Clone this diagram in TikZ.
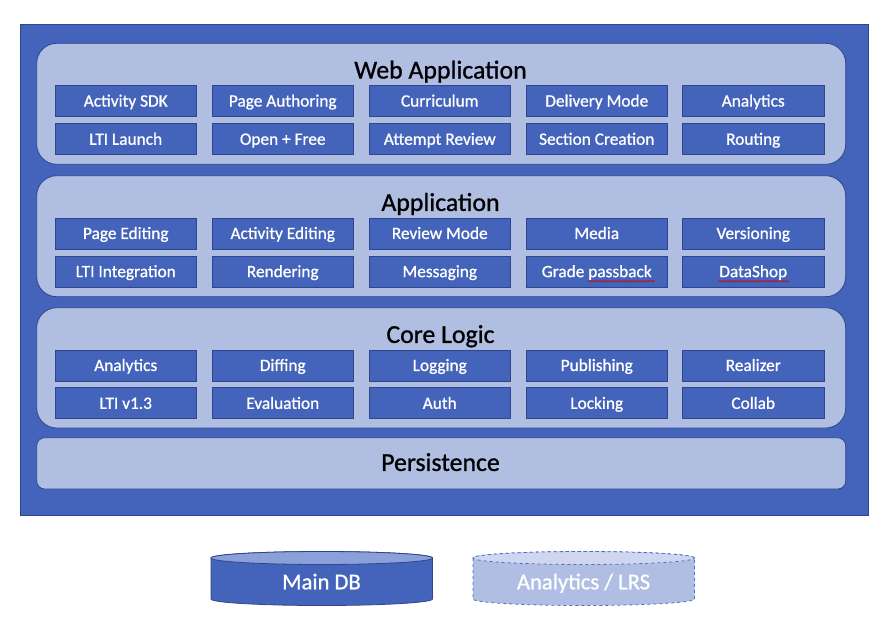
\documentclass[tikz,border=0pt]{standalone}
\usepackage{fontspec}
\setmainfont{Carlito}[RawFeature={embolden=0.9}]
\usetikzlibrary{decorations.pathmorphing}
\definecolor{oblue}{RGB}{68,99,186}
\definecolor{oedge}{RGB}{47,70,140}
\definecolor{plight}{RGB}{175,190,225}
\definecolor{dbtop}{RGB}{139,160,216}
\definecolor{lrsbody}{RGB}{175,190,226}
\definecolor{lrstop}{RGB}{206,215,239}
\definecolor{lrsedge}{RGB}{80,110,195}
\tikzset{
  every node/.style={inner sep=0pt, outer sep=0pt},
  frame/.style={draw=oedge, fill=oblue, line width=0.8pt},
  panel/.style={draw=oedge, fill=plight, line width=0.8pt, rounded corners=20pt, minimum width=809pt},
  ptitle/.style={font=\fontsize{25.8}{30}\selectfont, text=black, text height=16.6pt, text depth=0pt},
  cell/.style={draw=oedge, fill=oblue, line width=0.8pt, minimum width=141.5pt, minimum height=31pt,
    text=white, font=\fontsize{17.3}{20}\selectfont, text height=11.1pt, text depth=0pt},
  dbtext/.style={text=white, font=\fontsize{22.6}{26}\selectfont, text height=14.6pt, text depth=0pt},
  squiggle/.style={draw=red!85!black, line width=0.55pt, decorate, decoration={snake, amplitude=0.7pt, segment length=2.6pt}}
}
\begin{document}
\begin{tikzpicture}[x=1pt,y=-1pt]
\useasboundingbox (0,0) rectangle (888,624);
\node[frame, minimum width=848pt, minimum height=490.7pt] (outer) at (444,269.65) {};
% panels
\node[panel, minimum height=121pt] (webp) at (441.2,103.8) {};
\node[panel, minimum height=121pt] (appp) at (441.2,236.2) {};
\node[panel, minimum height=120.3pt] (corep) at (441.2,367.85) {};
\node[panel, minimum height=51.3pt, rounded corners=8pt] (persp) at (441.2,463.35) {};
% titles
\node[ptitle] (webt) at (440.5,70.2) {Web Application};
\node[ptitle] (appt) at (440.5,202.6) {Application};
\node[ptitle] (coret) at (440.5,334.6) {Core Logic};
\node[ptitle] (perst) at (440.5,462.6) {Persistence};
% Web Application cells
\node[cell] (w11) at (125.75,101) {Activity SDK};
\node[cell] (w12) at (282.75,101) {Page Authoring};
\node[cell] (w13) at (439.75,101) {Curriculum};
\node[cell] (w14) at (596.75,101) {Delivery Mode};
\node[cell] (w15) at (753.25,101) {Analytics};
\node[cell] (w21) at (125.75,139.2) {LTI Launch};
\node[cell] (w22) at (282.75,139.2) {Open + Free};
\node[cell] (w23) at (439.75,139.2) {Attempt Review};
\node[cell] (w24) at (596.75,139.2) {Section Creation};
\node[cell] (w25) at (753.25,139.2) {Routing};
% Application cells
\node[cell] (a11) at (125.75,233.4) {Page Editing};
\node[cell] (a12) at (282.75,233.4) {Activity Editing};
\node[cell] (a13) at (439.75,233.4) {Review Mode};
\node[cell] (a14) at (596.75,233.4) {Media};
\node[cell] (a15) at (753.25,233.4) {Versioning};
\node[cell] (a21) at (125.75,271.6) {LTI Integration};
\node[cell] (a22) at (282.75,271.6) {Rendering};
\node[cell] (a23) at (439.75,271.6) {Messaging};
\node[cell] (a24) at (596.75,271.6) {Grade passback};
\node[cell] (a25) at (753.25,271.6) {DataShop};
% Core Logic cells
\node[cell] (c11) at (125.75,365.4) {Analytics};
\node[cell] (c12) at (282.75,365.4) {Diffing};
\node[cell] (c13) at (439.75,365.4) {Logging};
\node[cell] (c14) at (596.75,365.4) {Publishing};
\node[cell] (c15) at (753.25,365.4) {Realizer};
\node[cell] (c21) at (125.75,403.3) {LTI v1.3};
\node[cell] (c22) at (282.75,403.3) {Evaluation};
\node[cell] (c23) at (439.75,403.3) {Auth};
\node[cell] (c24) at (596.75,403.3) {Locking};
\node[cell] (c25) at (753.25,403.3) {Collab};
% spell-check squiggles
\coordinate (sq1a) at (588,281.2);
\coordinate (sq1b) at (655,281.2);
\coordinate (sq2a) at (718,281.2);
\coordinate (sq2b) at (789,281.2);
\draw[squiggle] (sq1a) -- (sq1b);
\draw[squiggle] (sq2a) -- (sq2b);
% Main DB cylinder
\path[fill=oblue, draw=oedge, line width=0.8pt]
  (211,558) -- (211,599) arc[start angle=180, end angle=360, x radius=110.75pt, y radius=6.5pt]
  -- (432.5,558) arc[start angle=0, end angle=180, x radius=110.75pt, y radius=6.5pt] -- cycle;
\path[fill=dbtop, draw=oedge, line width=0.8pt] (321.75,558) ellipse[x radius=110.75pt, y radius=6.5pt];
\node[dbtext] (maindb) at (321.5,582) {Main DB};
% Analytics / LRS cylinder
\path[fill=lrsbody, draw=lrsedge, dashed, line width=0.8pt]
  (473,558) -- (473,599) arc[start angle=180, end angle=360, x radius=110.75pt, y radius=6.5pt]
  -- (694.5,558) arc[start angle=0, end angle=180, x radius=110.75pt, y radius=6.5pt] -- cycle;
\path[fill=lrstop, draw=lrsedge, dashed, line width=0.8pt] (583.75,558) ellipse[x radius=110.75pt, y radius=6.5pt];
\node[dbtext] (lrs) at (583.5,582) {Analytics / LRS};
\end{tikzpicture}
\end{document}
